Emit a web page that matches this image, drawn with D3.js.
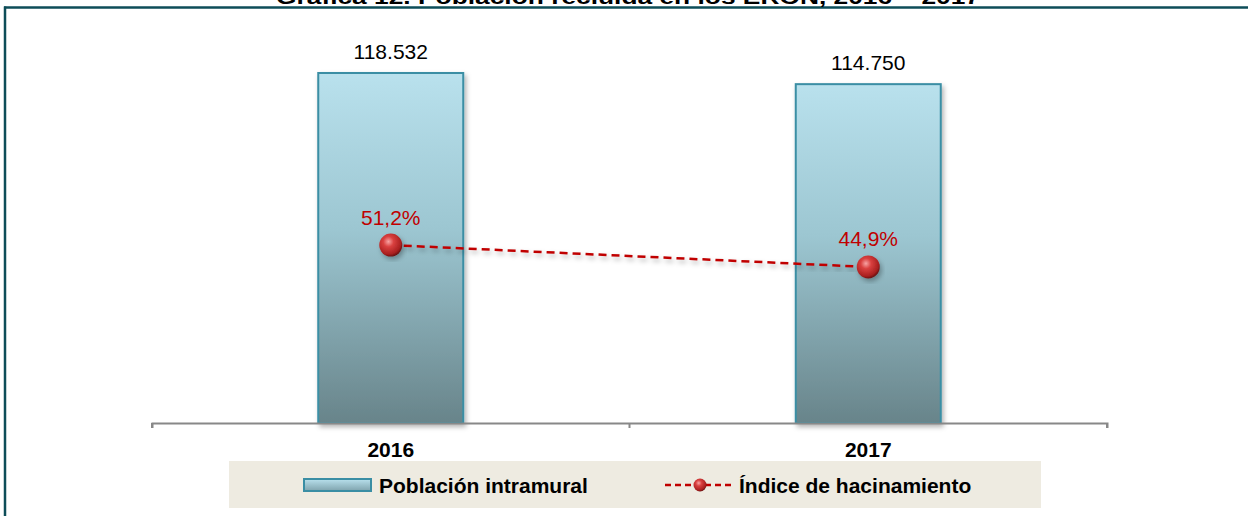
<!DOCTYPE html>
<html><head><meta charset="utf-8">
<script src="https://cdn.jsdelivr.net/npm/d3@7"></script>
<style>html,body{margin:0;padding:0;background:#fff;}svg{display:block;font-family:"Liberation Sans",Arial,sans-serif;}</style>
</head><body>
<script>
const categories = ["2016", "2017"];
const poblacion = [118532, 114750];
const poblacionLabels = ["118.532", "114.750"];
const hacinamiento = [51.2, 44.9];
const hacinamientoLabels = ["51,2%", "44,9%"];
const titleText = "Gráfica 12. Población recluida en los ERON, 2016 – 2017";
const legendLabels = ["Población intramural", "Índice de hacinamiento"];

const W = 1248, H = 516;
const FS = 21;
const svg = d3.select("body").append("svg").attr("width", W).attr("height", H);
const defs = svg.append("defs");

const barGrad = defs.append("linearGradient").attr("id","barGrad").attr("x1",0).attr("y1",0).attr("x2",0).attr("y2",1);
barGrad.append("stop").attr("offset","0%").attr("stop-color","#b9e1ed");
barGrad.append("stop").attr("offset","45%").attr("stop-color","#9cc6d1");
barGrad.append("stop").attr("offset","100%").attr("stop-color","#68848a");

const legGrad = defs.append("linearGradient").attr("id","legGrad").attr("x1",0).attr("y1",0).attr("x2",0).attr("y2",1);
legGrad.append("stop").attr("offset","0%").attr("stop-color","#b9e1ed");
legGrad.append("stop").attr("offset","100%").attr("stop-color","#7fa3ad");

const ballGrad = defs.append("radialGradient").attr("id","ballGrad").attr("cx","40%").attr("cy","35%").attr("r","65%");
ballGrad.append("stop").attr("offset","0%").attr("stop-color","#f7a3a3");
ballGrad.append("stop").attr("offset","35%").attr("stop-color","#d9403f");
ballGrad.append("stop").attr("offset","85%").attr("stop-color","#a81f1f");
ballGrad.append("stop").attr("offset","100%").attr("stop-color","#6e1212");

const shadow = defs.append("filter").attr("id","shadow").attr("x","-20%").attr("y","-20%").attr("width","140%").attr("height","140%");
shadow.append("feDropShadow").attr("dx",2).attr("dy",3).attr("stdDeviation",2.5).attr("flood-color","#000").attr("flood-opacity",0.3);

// Frame
svg.append("line").attr("x1",4).attr("x2",W).attr("y1",7.5).attr("y2",7.5).attr("stroke","#0d4d58").attr("stroke-width",2.5);
svg.append("line").attr("x1",5).attr("x2",5).attr("y1",6.5).attr("y2",H).attr("stroke","#0d4d58").attr("stroke-width",2.5);

// Title (partly above the top edge, as in the reference)
svg.append("text").attr("x",628).attr("y",4).attr("text-anchor","middle")
  .attr("font-weight","bold").attr("font-size",FS).attr("fill","#000")
  .attr("textLength",704).attr("lengthAdjust","spacingAndGlyphs").text(titleText);

const x = d3.scaleBand().domain(categories).range([152, 1107]).paddingInner(0).paddingOuter(0);
const y = d3.scaleLinear().domain([0, 140000]).range([423, 9.6]);
const y2 = d3.scaleLinear().domain([0, 120]).range([423, 6]);
const barW = 145;
const cx = d => x(d) + x.bandwidth()/2;

// Bars
svg.selectAll("rect.bar").data(categories).enter().append("rect")
  .attr("class","bar")
  .attr("x", d => cx(d) - barW/2)
  .attr("y", (d,i) => y(poblacion[i]))
  .attr("width", barW)
  .attr("height", (d,i) => y(0) - y(poblacion[i]))
  .attr("fill","url(#barGrad)")
  .attr("stroke","#3a8ea4").attr("stroke-width",2)
  .attr("filter","url(#shadow)");

// Bar labels
svg.selectAll("text.blab").data(categories).enter().append("text")
  .attr("class","blab")
  .attr("x", d => cx(d))
  .attr("y", (d,i) => y(poblacion[i]) - 14)
  .attr("text-anchor","middle").attr("font-size",FS).attr("fill","#000")
  .text((d,i) => poblacionLabels[i]);

// Axis
const axis = d3.axisBottom(x).tickSize(0).tickFormat("").tickSizeOuter(5);
const axG = svg.append("g").attr("transform","translate(0,423)").call(axis);
axG.select(".domain").attr("stroke","#888").attr("stroke-width",2);
axG.selectAll(".tick").remove();
const bounds = [x(categories[0]), x(categories[1]), x(categories[1]) + x.bandwidth()];
axG.selectAll("line.bt").data(bounds).enter().append("line").attr("class","bt")
  .attr("x1", d=>d).attr("x2", d=>d).attr("y1",0).attr("y2",5).attr("stroke","#888").attr("stroke-width",2);

svg.selectAll("text.cat").data(categories).enter().append("text")
  .attr("class","cat")
  .attr("x", d => cx(d))
  .attr("y", 456.5)
  .attr("text-anchor","middle").attr("font-size",FS).attr("font-weight","bold").attr("fill","#000")
  .text(d => d);

// Line
const line = d3.line().x((d,i) => cx(categories[i])).y(d => y2(d));
svg.append("path").datum(hacinamiento).attr("d", line)
  .attr("fill","none").attr("stroke","#c00000").attr("stroke-width",2.5)
  .attr("stroke-dasharray","8,5").attr("filter","url(#shadow)");

svg.selectAll("circle.pt").data(hacinamiento).enter().append("circle")
  .attr("class","pt")
  .attr("cx", (d,i) => cx(categories[i]))
  .attr("cy", d => y2(d))
  .attr("r", 11.5)
  .attr("fill","url(#ballGrad)")
  .attr("filter","url(#shadow)");

svg.selectAll("text.plab").data(hacinamiento).enter().append("text")
  .attr("class","plab")
  .attr("x", (d,i) => cx(categories[i]))
  .attr("y", d => y2(d) - 20.5)
  .attr("text-anchor","middle").attr("font-size",FS).attr("fill","#c00000")
  .text((d,i) => hacinamientoLabels[i]);

// Legend
const lg = svg.append("g");
lg.append("rect").attr("x",229).attr("y",461).attr("width",812).attr("height",47).attr("fill","#eeebe1");
lg.append("rect").attr("x",304).attr("y",479).attr("width",67).attr("height",12)
  .attr("fill","url(#legGrad)").attr("stroke","#3a8ea4").attr("stroke-width",2);
lg.append("text").attr("x",379).attr("y",492.5).attr("font-size",FS).attr("font-weight","bold").attr("fill","#000")
  .text(legendLabels[0]);
lg.append("line").attr("x1",665).attr("x2",734).attr("y1",485).attr("y2",485)
  .attr("stroke","#c00000").attr("stroke-width",2.5).attr("stroke-dasharray","6,4");
lg.append("circle").attr("cx",700).attr("cy",485).attr("r",6.5).attr("fill","url(#ballGrad)");
lg.append("text").attr("x",739).attr("y",492.5).attr("font-size",FS).attr("font-weight","bold").attr("fill","#000")
  .text(legendLabels[1]);
</script>
</body></html>
